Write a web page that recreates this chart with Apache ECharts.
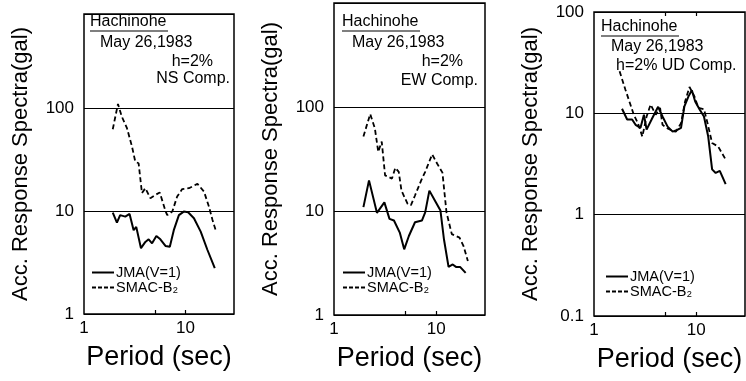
<!DOCTYPE html>
<html>
<head>
<meta charset="utf-8">
<title>Hachinohe response spectra</title>
<script src="https://cdn.jsdelivr.net/npm/echarts@6/dist/echarts.min.js"></script>
<style>
  html, body { margin: 0; padding: 0; background: #fff; }
  #chart { width: 746px; height: 381px; }
</style>
</head>
<body>
<div id="chart"></div>
<script>
// Acceleration response spectra (h = 2 %), Hachinohe, May 26, 1983.
// Periods in seconds, spectra in gal.

// NS component
const nsJmaPeriod = [1.92, 2.11, 2.27, 2.55, 2.81, 3.08, 3.27, 3.64, 4.02, 4.33, 4.68, 5.16, 5.65, 6.34, 7.0, 7.66, 8.6, 9.6, 10.6, 12.1, 14.1, 16.4, 19.4];
const nsJma       = [9.6, 7.7, 9.1, 8.8, 9.35, 6.5, 7.0, 4.35, 5.0, 5.3, 4.85, 5.7, 5.3, 4.57, 4.5, 6.5, 9.1, 9.85, 9.7, 8.5, 6.3, 4.2, 2.78];
const nsSmacPeriod = [1.92, 2.16, 2.36, 2.65, 2.97, 3.2, 3.45, 3.72, 4.02, 4.5, 5.05, 5.57, 6.34, 6.6, 7.4, 8.27, 9.27, 10.8, 13.1, 15.2, 17.0, 18.4, 20.1];
const nsSmac       = [62, 109, 82, 63.5, 42, 30, 29, 14.9, 16.6, 13.3, 14.3, 15.1, 10, 9.1, 9.85, 13.8, 16.3, 16.6, 18.3, 15.4, 11, 8.2, 6.2];

// EW component
const ewJmaPeriod = [1.94, 2.2, 2.63, 3.11, 3.49, 3.86, 4.4, 4.86, 5.4, 6.2, 7.24, 7.8, 8.57, 9.85, 11.0, 11.9, 13.2, 14.5, 15.6, 17.1, 19.4];
const ewJma       = [10.9, 19.7, 9.6, 12.1, 8.4, 8.1, 6.2, 4.28, 5.75, 7.8, 8.1, 9.7, 15.7, 12.3, 10.1, 5.35, 2.9, 3.06, 2.9, 2.9, 2.54];
const ewSmacPeriod = [1.94, 2.26, 2.51, 2.71, 2.93, 3.16, 3.69, 3.98, 4.3, 4.57, 5.25, 5.66, 6.2, 7.13, 7.8, 9.12, 10.2, 11.5, 12.6, 14.2, 16.9, 18.5, 20.4];
const ewSmac       = [52, 85.5, 62.5, 37, 46.5, 22, 20.5, 26, 23.8, 15.7, 11.7, 11.4, 14.1, 19.7, 23.8, 35, 28.6, 23.4, 9.7, 6.0, 5.55, 4.6, 3.3];

// UD component
const udJmaPeriod = [1.88, 2.11, 2.36, 2.55, 2.85, 3.08, 3.27, 3.72, 4.24, 4.68, 5.25, 5.88, 6.6, 7.1, 7.66, 8.4, 9.06, 9.77, 10.8, 11.9, 13.1, 14.3, 15.5, 17.0, 19.4];
const udJma       = [11.1, 8.7, 8.7, 7.7, 7.2, 9.7, 6.9, 9.0, 11.6, 9.3, 7.4, 6.6, 6.9, 7.2, 11.7, 14.7, 16.9, 13.1, 10.9, 9.3, 5.9, 2.8, 2.58, 2.7, 2.0];
const udSmacPeriod = [1.78, 2.03, 2.27, 2.45, 2.69, 2.97, 3.27, 3.58, 4.02, 4.43, 4.68, 5.25, 5.88, 6.34, 7.1, 7.78, 8.6, 9.6, 10.5, 11.9, 12.9, 14.3, 16.4, 19.4];
const udSmac       = [26, 17.1, 12.2, 9.7, 8.0, 5.9, 9.3, 12.2, 9.7, 11.3, 7.7, 7.1, 6.7, 6.6, 8.0, 13.1, 18.2, 14.7, 11.3, 11.0, 8.0, 5.1, 4.7, 3.5];

// Axis tick labels
const periodLabels = [1, 10];
const periodTicks = [5, 10];
const spectraLabelsHorizontal = [1, 10, 100];
const spectraLabelsVertical = [0.1, 1, 10, 100];

const seriesNames = ['JMA(V=1)', 'SMAC-B\u2082'];
const panelTexts = [
  { place: 'Hachinohe', date: 'May 26,1983', damping: 'h=2%', comp: 'NS Comp.' },
  { place: 'Hachinohe', date: 'May 26,1983', damping: 'h=2%', comp: 'EW Comp.' },
  { place: 'Hachinohe', date: 'May 26,1983', damping: 'h=2% UD Comp.', comp: '' }
];

const zip = (xs, ys) => xs.map((x, i) => [x, ys[i]]);

const FONT = '"Liberation Sans", Arial, sans-serif';
const black = '#000';

const grids = [
  { left: 84, top: 14, width: 150, height: 300 },
  { left: 334, top: 3, width: 151, height: 312 },
  { left: 594, top: 12, width: 151, height: 304 }
].map(g => Object.assign(g, { show: true, borderColor: black, borderWidth: 1.5, containLabel: false }));

function xAxisFor(i) {
  return {
    type: 'log', gridIndex: i, logBase: 10, min: 1, max: 30,
    name: 'Period (sec)', nameLocation: 'middle', nameGap: 30,
    nameTextStyle: { fontFamily: FONT, fontSize: 27, color: black },
    axisLine: { show: false },
    axisTick: { show: true, inside: true, length: 4, customValues: periodTicks, lineStyle: { color: black, width: 1.2 } },
    axisLabel: { customValues: periodLabels, fontFamily: FONT, fontSize: 17, color: black, margin: 6,
                 formatter: v => String(v) },
    splitLine: { show: false }
  };
}

function yAxisFor(i, min, max, labels) {
  return {
    type: 'log', gridIndex: i, logBase: 10, min: min, max: max,
    name: 'Acc. Response Spectra(gal)', nameLocation: 'middle', nameGap: 52,
    nameTextStyle: { fontFamily: FONT, fontSize: 22, color: black },
    axisLine: { show: false },
    axisTick: { show: false },
    axisLabel: { customValues: labels, fontFamily: FONT, fontSize: 17, color: black, margin: 10,
                 formatter: v => String(v) },
    splitLine: { show: true, lineStyle: { color: black, width: 1.2 } }
  };
}

const xAxes = [xAxisFor(0), xAxisFor(1), xAxisFor(2)];
// tick marks along the top edge of the UD panel
xAxes.push({
  type: 'log', gridIndex: 2, logBase: 10, min: 1, max: 30, position: 'top',
  axisLine: { show: false },
  axisTick: { show: true, inside: true, length: 4, customValues: periodTicks, lineStyle: { color: black, width: 1.2 } },
  axisLabel: { show: false },
  splitLine: { show: false }
});

const yAxes = [
  yAxisFor(0, 1, Math.pow(10, 2.91), spectraLabelsHorizontal),
  yAxisFor(1, 1, 1000, spectraLabelsHorizontal),
  yAxisFor(2, 0.1, 100, spectraLabelsVertical)
];

const solidStyle = { color: black, width: 2, type: 'solid' };
const dashedStyle = { color: black, width: 1.8, type: [5, 3] };

function lineSeries(name, data, idx, style) {
  return {
    type: 'line', name: name, data: data, xAxisIndex: idx, yAxisIndex: idx,
    symbol: 'none', smooth: false, lineStyle: style, itemStyle: { color: black },
    silent: true, animation: false
  };
}

const series = [
  lineSeries(seriesNames[0], zip(nsJmaPeriod, nsJma), 0, solidStyle),
  lineSeries(seriesNames[1], zip(nsSmacPeriod, nsSmac), 0, dashedStyle),
  lineSeries(seriesNames[0], zip(ewJmaPeriod, ewJma), 1, solidStyle),
  lineSeries(seriesNames[1], zip(ewSmacPeriod, ewSmac), 1, dashedStyle),
  lineSeries(seriesNames[0], zip(udJmaPeriod, udJma), 2, solidStyle),
  lineSeries(seriesNames[1], zip(udSmacPeriod, udSmac), 2, dashedStyle)
];

// legend keys: a plain bar for the solid line, short bars for the dashed one
const solidKey = 'path://M0,0h22v2h-22z';
const dashedKey = 'path://M0,0h4v2h-4zM6,0h4v2h-4zM12,0h4v2h-4zM18,0h4v2h-4z';

const legendPos = [
  { left: 92, top: 265 },
  { left: 343, top: 265 },
  { left: 606, top: 269 }
];
const legends = legendPos.map(p => ({
  data: [{ name: seriesNames[0], icon: solidKey }, { name: seriesNames[1], icon: dashedKey }],
  orient: 'vertical', left: p.left, top: p.top, padding: 0,
  itemWidth: 24, itemHeight: 2, itemGap: 0, selectedMode: false,
  itemStyle: { color: black, borderWidth: 0 },
  textStyle: { fontFamily: FONT, fontSize: 14.5, color: black, padding: [0, 0, 0, -4] }
}));

// Station / event annotations inside each panel
const txt = (x, y, text, align) => ({
  type: 'text', x: x, y: y,
  style: { text: text, fontFamily: FONT, fontSize: 16, fill: black, align: align || 'left', verticalAlign: 'middle' }
});
const rule = (x1, x2, y) => ({ type: 'line', shape: { x1: x1, y1: y, x2: x2, y2: y }, style: { stroke: black, lineWidth: 1.2 } });

const graphics = [
  txt(90, 22, panelTexts[0].place), rule(90, 168, 31),
  txt(100, 43, panelTexts[0].date),
  txt(213, 62, panelTexts[0].damping, 'right'),
  txt(230, 79, panelTexts[0].comp, 'right'),

  txt(342, 22, panelTexts[1].place), rule(342, 420, 31),
  txt(352, 43, panelTexts[1].date),
  txt(463, 62, panelTexts[1].damping, 'right'),
  txt(478, 81, panelTexts[1].comp, 'right'),

  txt(601, 27, panelTexts[2].place), rule(601, 679, 36),
  txt(611, 47, panelTexts[2].date),
  txt(616, 66, panelTexts[2].damping)
];

const chart = echarts.init(document.getElementById('chart'), null, { renderer: 'canvas' });
chart.setOption({
  backgroundColor: '#fff',
  animation: false,
  grid: grids,
  xAxis: xAxes,
  yAxis: yAxes,
  legend: legends,
  series: series,
  graphic: graphics
});
</script>
</body>
</html>
